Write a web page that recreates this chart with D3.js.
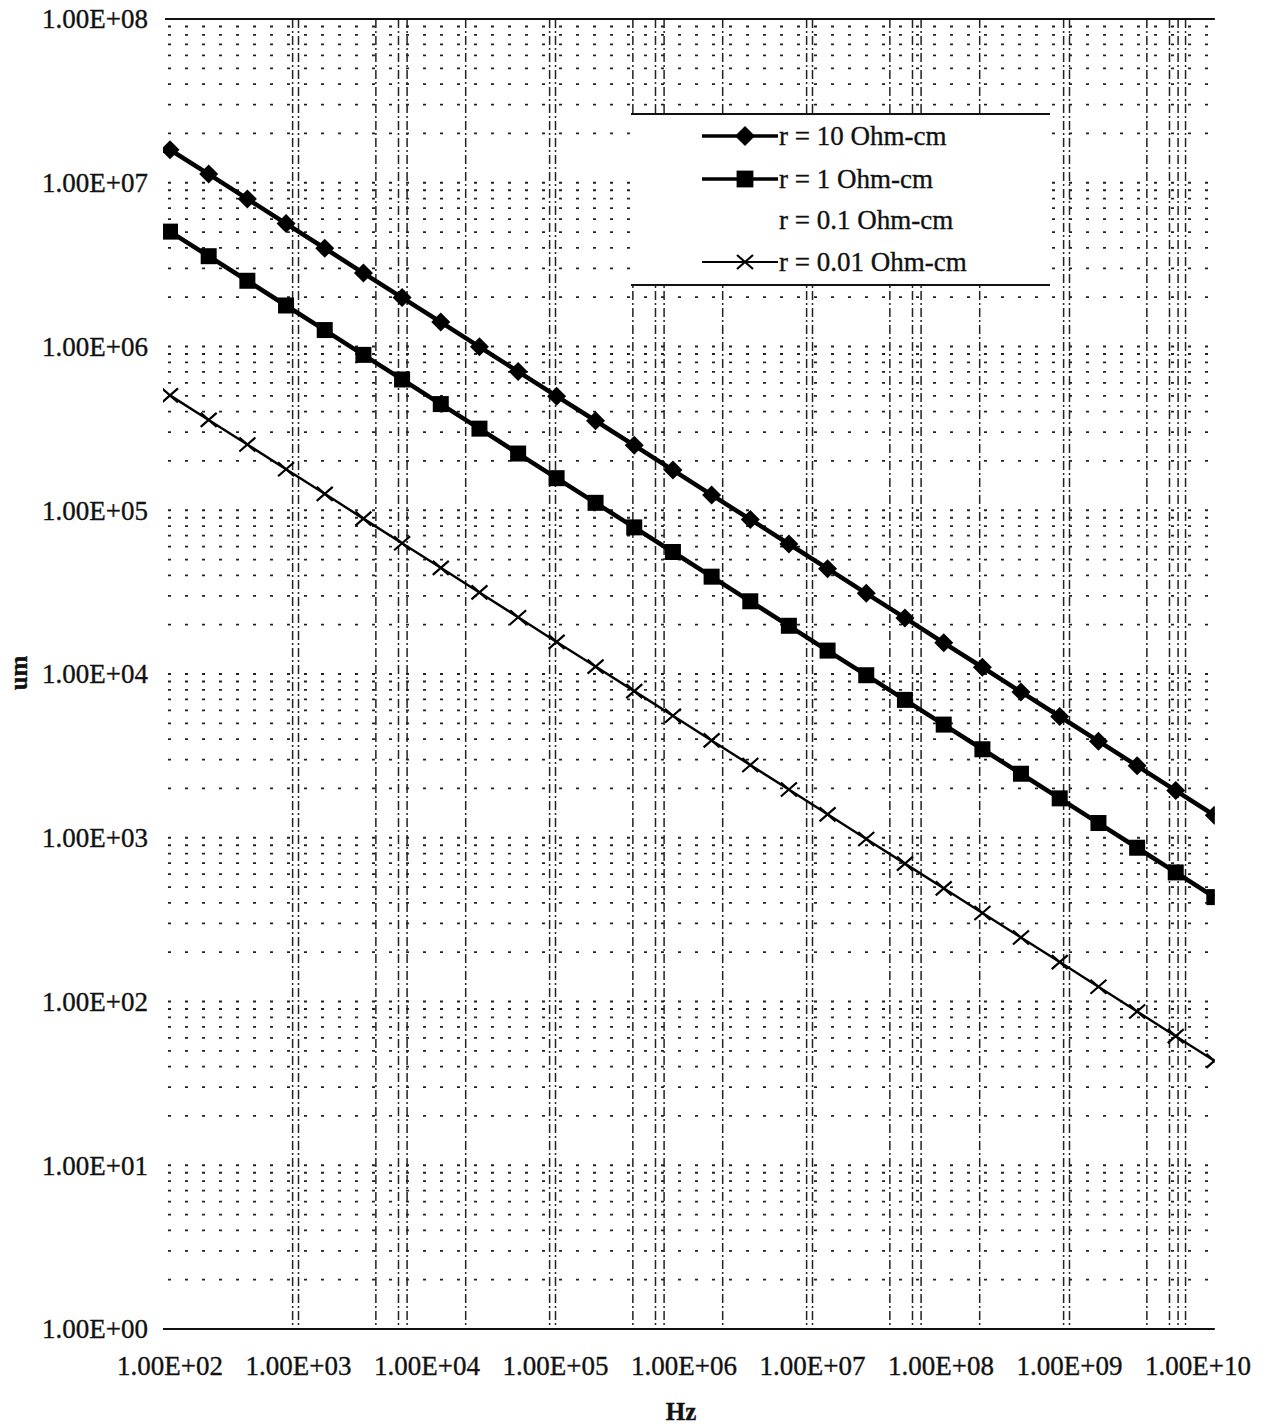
<!DOCTYPE html>
<html>
<head>
<meta charset="utf-8">
<script src="https://cdn.jsdelivr.net/npm/d3@7"></script>
<style>
  body { margin: 0; background: #fff; }
  svg { display: block; }
  text { font-family: "Liberation Serif", "Times New Roman", serif; fill: #111; stroke: #111; stroke-width: 0.35px; }
</style>
</head>
<body>
<svg id="chart" width="1273" height="1424"></svg>
<script>
// Frequency sweep (Hz), doubling at each step
const frequencies = [1.0e2, 2.0e2, 4.0e2, 8.0e2, 1.6e3, 3.2e3, 6.4e3, 1.28e4, 2.56e4, 5.12e4,
  1.02e5, 2.05e5, 4.1e5, 8.2e5, 1.64e6, 3.28e6, 6.55e6, 1.31e7, 2.62e7, 5.24e7,
  1.05e8, 2.1e8, 4.19e8, 8.39e8, 1.68e9, 3.36e9, 6.71e9, 1.34e10];

// Skin depth (um) for each resistivity
const depthR10 = [1.59e7, 1.13e7, 7.96e6, 5.63e6, 3.98e6, 2.81e6, 1.99e6, 1.41e6, 9.95e5, 7.03e5,
  4.97e5, 3.52e5, 2.49e5, 1.76e5, 1.24e5, 8.79e4, 6.22e4, 4.40e4, 3.11e4, 2.20e4,
  1.55e4, 1.10e4, 7.77e3, 5.50e3, 3.89e3, 2.75e3, 1.94e3, 1.37e3];
const depthR1 = [5.03e6, 3.56e6, 2.52e6, 1.78e6, 1.26e6, 8.89e5, 6.29e5, 4.45e5, 3.15e5, 2.22e5,
  1.57e5, 1.11e5, 7.86e4, 5.56e4, 3.93e4, 2.78e4, 1.97e4, 1.39e4, 9.83e3, 6.95e3,
  4.91e3, 3.47e3, 2.46e3, 1.74e3, 1.23e3, 8.69e2, 6.14e2, 4.34e2];
const depthR001 = [5.03e5, 3.56e5, 2.52e5, 1.78e5, 1.26e5, 8.89e4, 6.29e4, 4.45e4, 3.15e4, 2.22e4,
  1.57e4, 1.11e4, 7.86e3, 5.56e3, 3.93e3, 2.78e3, 1.97e3, 1.39e3, 9.83e2, 6.95e2,
  4.91e2, 3.47e2, 2.46e2, 1.74e2, 1.23e2, 8.69e1, 6.14e1, 4.34e1];

const xTickValues = [1e2, 1e3, 1e4, 1e5, 1e6, 1e7, 1e8, 1e9, 1e10];
const xTickLabels = ["1.00E+02", "1.00E+03", "1.00E+04", "1.00E+05", "1.00E+06",
  "1.00E+07", "1.00E+08", "1.00E+09", "1.00E+10"];
const yTickValues = [1e0, 1e1, 1e2, 1e3, 1e4, 1e5, 1e6, 1e7, 1e8];
const yTickLabels = ["1.00E+00", "1.00E+01", "1.00E+02", "1.00E+03", "1.00E+04",
  "1.00E+05", "1.00E+06", "1.00E+07", "1.00E+08"];

// Frequencies carrying a vertical rule
const ruledFrequencies = [9e2, 1e3, 4e3, 6e3, 7e3, 2e4, 9e4, 1e5, 4e5, 6e5, 7e5, 2e6,
  9e6, 1e7, 4e7, 6e7, 7e7, 2e8, 9e8, 1e9, 4e9, 6e9, 7e9, 8e9];

const legendLabels = ["r = 10 Ohm-cm", "r = 1 Ohm-cm", "r = 0.1 Ohm-cm", "r = 0.01 Ohm-cm"];
const legendSymbols = ["diamond", "square", "none", "cross"];

const svg = d3.select("#chart");
const x = d3.scaleLog().domain([1e2, 1e10]).range([170, 1198]);
const y = d3.scaleLog().domain([1, 1e8]).range([1329, 19]);
const plotLeft = 163, plotRight = x(frequencies[frequencies.length - 1]) + 0.5;
const plotTop = y(1e8), plotBottom = y(1);

svg.append("defs").append("clipPath").attr("id", "plotClip")
  .append("rect").attr("x", plotLeft).attr("y", plotTop - 20)
  .attr("width", plotRight - plotLeft).attr("height", plotBottom - plotTop + 40);

// Horizontal dotted grid (every log tick)
svg.append("g").selectAll("line").data(y.ticks()).join("line")
  .attr("x1", plotLeft + 5).attr("x2", plotRight)
  .attr("y1", d => y(d)).attr("y2", d => y(d))
  .attr("stroke", "#222").attr("stroke-width", 1.8)
  .attr("stroke-dasharray", "3,14");

// Vertical dash-dot rules
svg.append("g").selectAll("line").data(ruledFrequencies).join("line")
  .attr("x1", d => x(d)).attr("x2", d => x(d))
  .attr("y1", plotTop).attr("y2", plotBottom)
  .attr("stroke", "#222").attr("stroke-width", 1.5)
  .attr("stroke-dasharray", "9,3,2,3");

// Frame: top edge and horizontal axis
svg.append("line").attr("x1", plotLeft + 2).attr("x2", plotRight).attr("y1", plotTop).attr("y2", plotTop)
  .attr("stroke", "#111").attr("stroke-width", 2);
svg.append("line").attr("x1", plotLeft).attr("x2", plotRight).attr("y1", plotBottom).attr("y2", plotBottom)
  .attr("stroke", "#111").attr("stroke-width", 2);

// Tick labels
svg.append("g").selectAll("text").data(yTickValues).join("text")
  .attr("x", 148).attr("y", d => y(d)).attr("dy", "0.35em")
  .attr("text-anchor", "end").attr("font-size", 27)
  .text((d, i) => yTickLabels[i]);
svg.append("g").selectAll("text").data(xTickValues).join("text")
  .attr("x", d => x(d)).attr("y", 1366).attr("dy", "0.35em")
  .attr("text-anchor", "middle").attr("font-size", 27)
  .text((d, i) => xTickLabels[i]);

// Axis titles
svg.append("text").attr("x", 681).attr("y", 1411).attr("dy", "0.35em")
  .attr("text-anchor", "middle").attr("font-size", 25).attr("font-weight", "bold").text("Hz");
svg.append("text").attr("transform", "translate(18,673) rotate(-90)").attr("dy", "0.35em")
  .attr("text-anchor", "middle").attr("font-size", 25).attr("font-weight", "bold").text("um");

// Marker shapes
function marker(g, kind, scale) {
  const k = scale || 1;
  if (kind === "diamond") {
    const r = 9.5 * k;
    g.append("path").attr("d", `M0,${-r}L${r},0L0,${r}L${-r},0Z`).attr("fill", "#000");
  } else if (kind === "square") {
    const h = 8 * k;
    g.append("rect").attr("x", -h).attr("y", -h).attr("width", 2 * h).attr("height", 2 * h).attr("fill", "#000");
  } else if (kind === "cross") {
    g.append("path").attr("d", "M-8,-7L8,7M-8,7L8,-7").attr("stroke", "#000").attr("stroke-width", 2.2).attr("fill", "none");
  }
}

const series = [
  { values: depthR10, kind: "diamond", width: 4.5 },
  { values: depthR1, kind: "square", width: 4.5 },
  { values: depthR001, kind: "cross", width: 2.4 }
];

const plot = svg.append("g").attr("clip-path", "url(#plotClip)");
const line = d3.line().x(d => x(d[0])).y(d => y(d[1]));
series.forEach(s => {
  const pts = frequencies.map((f, i) => [f, s.values[i]]);
  plot.append("path").datum(pts).attr("d", line)
    .attr("fill", "none").attr("stroke", "#000").attr("stroke-width", s.width)
    .attr("stroke-linejoin", "round");
  pts.forEach(p => {
    const g = plot.append("g").attr("transform", `translate(${x(p[0])},${y(p[1])})`);
    marker(g, s.kind);
  });
});

// Legend
const lg = svg.append("g");
lg.append("rect").attr("x", 631).attr("y", 114).attr("width", 419).attr("height", 171).attr("fill", "#fff");
lg.append("line").attr("x1", 631).attr("x2", 1050).attr("y1", 114).attr("y2", 114).attr("stroke", "#111").attr("stroke-width", 1.8);
lg.append("line").attr("x1", 631).attr("x2", 1050).attr("y1", 285).attr("y2", 285).attr("stroke", "#111").attr("stroke-width", 1.8);
const rowY = [136, 179, 220, 262];
legendLabels.forEach((label, i) => {
  const kind = legendSymbols[i];
  if (kind !== "none") {
    lg.append("line").attr("x1", 702).attr("x2", 778).attr("y1", rowY[i]).attr("y2", rowY[i])
      .attr("stroke", "#000").attr("stroke-width", kind === "cross" ? 2.2 : 3.5);
    marker(lg.append("g").attr("transform", `translate(745,${rowY[i]})`), kind, 1.05);
  }
  lg.append("text").attr("x", 779).attr("y", rowY[i]).attr("dy", "0.35em")
    .attr("font-size", 27).text(label);
});
</script>
</body>
</html>
